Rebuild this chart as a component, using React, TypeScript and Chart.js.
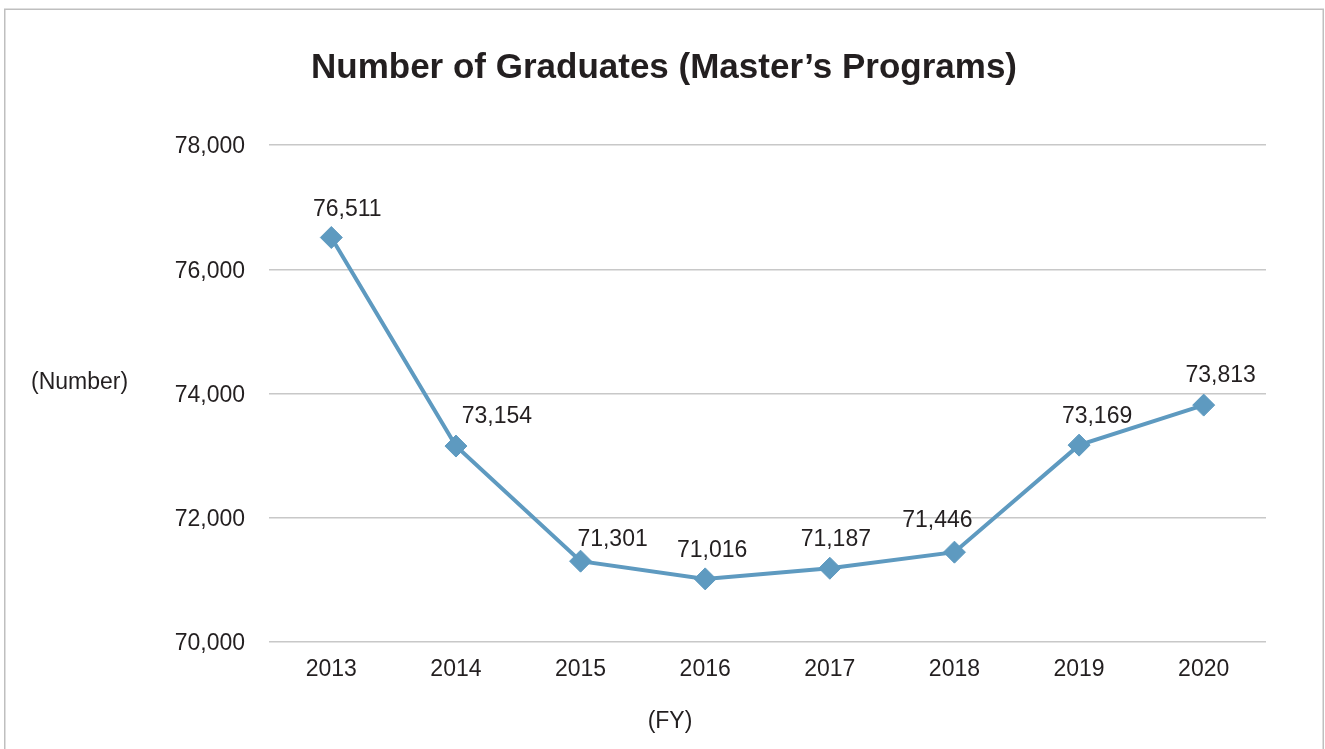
import React, { useEffect, useRef } from 'react';
import { Chart, registerables } from 'chart.js';

Chart.register(...registerables);

// ---- data ----
const years = ['2013', '2014', '2015', '2016', '2017', '2018', '2019', '2020'];
const graduates = [76511, 73154, 71301, 71016, 71187, 71446, 73169, 73813];
const yMin = 70000;
const yMax = 78000;
const yStep = 2000;
const titleText = 'Number of Graduates (Master\u2019s Programs)';
const yUnitLabel = '(Number)';
const xUnitLabel = '(FY)';

// ---- style: per-label nudges (px) ----
const labelDx = [16, 41, 32, 7, 6, -17, 18, 17];
const labelDy = [-30, -31, -23, -30, -30, -33, -30, -31];

const FONT = '"Liberation Sans", Arial, Helvetica, sans-serif';
const TEXT = '#231f20';
const LINE = '#5e9ac0';
const GRID = '#c8c8c8';
const W = 1325;
const H = 749;

const fmt = (v: number) => Number(v).toLocaleString('en-US');

const extras = {
  id: 'extras',
  afterDatasetsDraw(chart: any) {
    const ctx = chart.ctx;
    const meta = chart.getDatasetMeta(0);
    ctx.save();
    ctx.font = `23px ${FONT}`;
    ctx.fillStyle = TEXT;
    ctx.textAlign = 'center';
    ctx.textBaseline = 'alphabetic';
    meta.data.forEach((pt: any, i: number) => {
      ctx.fillText(fmt(graduates[i]), pt.x + labelDx[i], pt.y + labelDy[i] + 8.2);
    });
    ctx.restore();
  },
  afterDraw(chart: any) {
    const ctx = chart.ctx;
    ctx.save();
    // outer frame
    ctx.strokeStyle = '#bfbfbf';
    ctx.lineWidth = 1.5;
    ctx.strokeRect(4.75, 9.25, W - 6.5, H + 20);
    // title
    ctx.fillStyle = TEXT;
    ctx.textBaseline = 'alphabetic';
    ctx.textAlign = 'center';
    ctx.font = `bold 35px ${FONT}`;
    ctx.fillText(titleText, 664, 78);
    // unit labels
    ctx.font = `23px ${FONT}`;
    ctx.textAlign = 'left';
    ctx.fillText(yUnitLabel, 31, 388.5);
    ctx.textAlign = 'center';
    ctx.fillText(xUnitLabel, 670, 728);
    ctx.restore();
  },
};

export default function App() {
  const ref = useRef<HTMLCanvasElement | null>(null);

  useEffect(() => {
    if (!ref.current) return;
    const chart = new Chart(ref.current, {
      type: 'line',
      data: {
        labels: years,
        datasets: [
          {
            data: graduates,
            borderColor: LINE,
            backgroundColor: LINE,
            borderWidth: 4,
            pointStyle: 'rectRot',
            pointRadius: 11,
            pointBorderWidth: 1,
            pointBackgroundColor: LINE,
            pointBorderColor: LINE,
            tension: 0,
            fill: false,
          },
        ],
      },
      options: {
        animation: false,
        responsive: false,
        maintainAspectRatio: false,
        layout: { padding: { left: 0, right: 59, top: 145, bottom: 0 } },
        plugins: {
          legend: { display: false },
          title: { display: false },
          tooltip: { enabled: false },
        },
        scales: {
          x: {
            type: 'category',
            offset: true,
            grid: { display: false, drawTicks: false },
            border: { display: false },
            ticks: {
              color: TEXT,
              font: { family: FONT, size: 23 },
              padding: 14,
              maxRotation: 0,
            },
            afterFit: (s: any) => {
              s.height = 107;
            },
          },
          y: {
            min: yMin,
            max: yMax,
            grid: { color: GRID, lineWidth: 1.5, drawTicks: false },
            border: { display: false },
            ticks: {
              stepSize: yStep,
              color: TEXT,
              font: { family: FONT, size: 23 },
              padding: 24,
              labelOffset: 2,
              callback: (v: any) => fmt(v),
            },
            afterFit: (s: any) => {
              s.width = 269;
            },
          },
        },
      },
      plugins: [extras],
    });
    return () => chart.destroy();
  }, []);

  return (
    <div style={{ position: 'absolute', left: 0, top: 0, width: W, height: H, background: '#fff' }}>
      <canvas ref={ref} width={W} height={H} style={{ display: 'block', width: W, height: H }} />
    </div>
  );
}
